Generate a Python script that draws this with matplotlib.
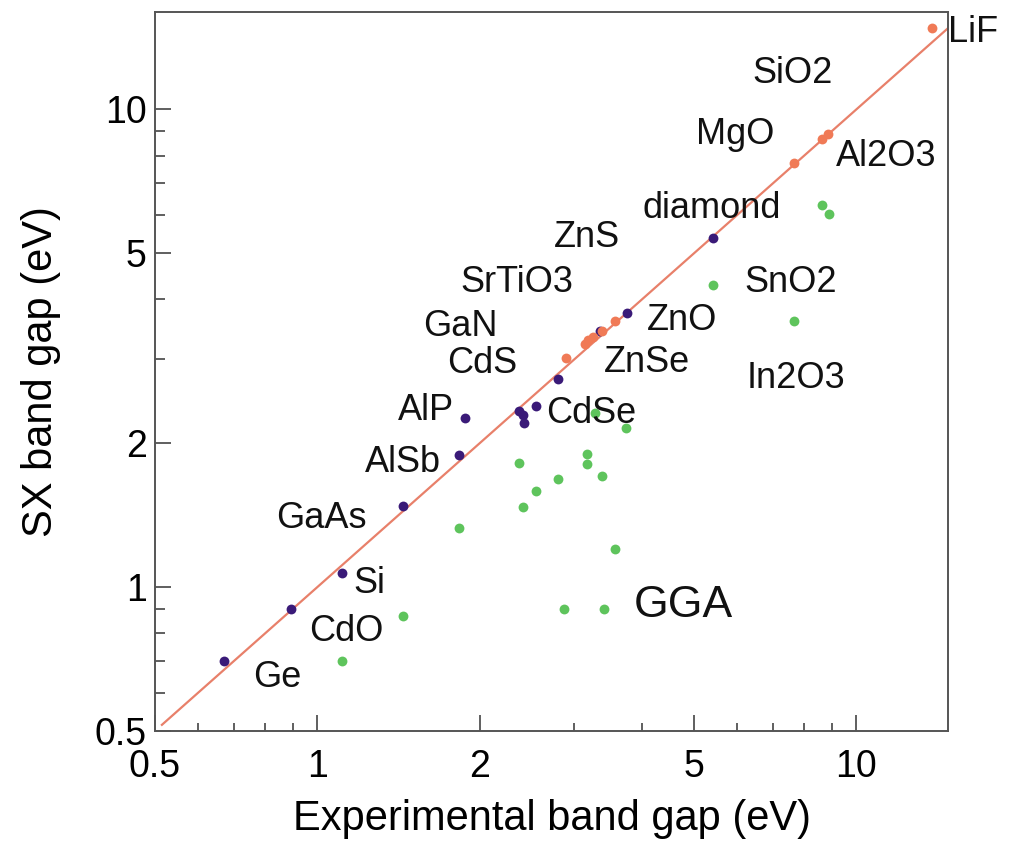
import matplotlib
matplotlib.use("Agg")
from matplotlib import pyplot as plt
from matplotlib.ticker import FixedLocator, NullFormatter

plt.rcParams['font.family'] = ['Liberation Sans', 'DejaVu Sans']

# experimental gap vs SX gap, three groups of points
purple_exp = [0.67, 0.895, 1.11, 1.44, 1.83, 1.88, 2.37, 2.41, 2.42, 2.54, 2.79, 3.35, 3.76, 5.43]
purple_sx = [0.70, 0.90, 1.07, 1.48, 1.89, 2.26, 2.34, 2.29, 2.21, 2.39, 2.73, 3.44, 3.75, 5.38]

orange_exp = [2.89, 3.14, 3.18, 3.25, 3.38, 3.56, 7.67, 8.65, 8.87, 13.8]
orange_sx = [3.01, 3.23, 3.29, 3.34, 3.44, 3.61, 7.71, 8.65, 8.87, 14.8]

green_exp = [8.65, 8.91, 5.43, 7.67, 3.28, 3.74, 3.16, 3.17, 2.37, 3.38, 2.80, 2.54,
             2.41, 1.83, 3.57, 2.87, 3.41, 1.44, 1.11]
green_gga = [6.31, 6.04, 4.29, 3.61, 2.31, 2.15, 1.90, 1.81, 1.82, 1.71, 1.68, 1.59,
             1.47, 1.33, 1.20, 0.90, 0.90, 0.87, 0.70]

labels = ['LiF', 'SiO2', 'MgO', 'Al2O3', 'diamond', 'ZnS', 'SrTiO3', 'SnO2', 'GaN',
          'ZnO', 'CdS', 'ZnSe', 'In2O3', 'AlP', 'CdSe', 'AlSb', 'GaAs', 'Si', 'CdO', 'Ge']
label_x = [14.8, 7.62, 5.95, 9.18, 5.38, 3.16, 2.35, 7.55, 1.84, 4.75, 2.02, 4.08, 7.71,
           1.59, 3.22, 1.44, 1.017, 1.25, 1.13, 0.843]
label_y = [14.5, 11.9, 8.87, 7.98, 6.21, 5.40, 4.35, 4.35, 3.52, 3.61, 2.94, 2.95, 2.73,
           2.34, 2.31, 1.82, 1.39, 1.02, 0.806, 0.646]

purple = '#3a1a78'
orange = '#f07a56'
green = '#5ec45c'

fig = plt.figure(figsize=(10.13, 8.47), dpi=100)
ax = fig.add_axes([0.153, 0.137, 0.783, 0.849])
ax.set_xscale('log')
ax.set_yscale('log')
ax.set_xlim(0.5, 14.8)
ax.set_ylim(0.5, 16)

ax.plot([0.515, 15.5], [0.515, 15.5], color='#e8806a', lw=1.6, zorder=1)
ax.scatter(green_exp, green_gga, s=50, color=green, zorder=2, linewidths=0)
ax.scatter(purple_exp, purple_sx, s=50, color=purple, zorder=3, linewidths=0)
ax.scatter(orange_exp, orange_sx, s=50, color=orange, zorder=3, linewidths=0)

for name, lx, ly in zip(labels, label_x, label_y):
    ha = 'left' if name in ('LiF', 'Al2O3') else 'center'
    ax.text(lx, ly, name, fontsize=26, ha=ha, va='center', color='#111111',
            clip_on=False, zorder=4)
ax.text(4.78, 0.917, 'GGA', fontsize=32, ha='center', va='center', color='#111111')

major = [0.5, 1, 2, 5, 10]
ax.xaxis.set_major_locator(FixedLocator(major))
ax.yaxis.set_major_locator(FixedLocator(major))
ax.set_xticklabels(['0.5', '1', '2', '5', '10'])
ax.set_yticklabels(['0.5', '1', '2', '5', '10'])
minor = [0.6, 0.7, 0.8, 0.9, 3, 4, 6, 7, 8, 9]
ax.xaxis.set_minor_locator(FixedLocator(minor))
ax.yaxis.set_minor_locator(FixedLocator(minor))
ax.xaxis.set_minor_formatter(NullFormatter())
ax.yaxis.set_minor_formatter(NullFormatter())

ax.tick_params(which='both', direction='in', top=False, right=False, color='#444444',
               labelsize=27, width=1.2)
ax.tick_params(which='major', length=11.5)
ax.tick_params(axis='x', which='minor', length=5.5)
ax.tick_params(axis='y', which='minor', length=7)
ax.tick_params(axis='x', pad=13)
ax.tick_params(axis='y', pad=6)

for sp in ax.spines.values():
    sp.set_color('#555555')
    sp.set_linewidth(1.4)

ax.set_xlabel('Experimental band gap (eV)', fontsize=30, labelpad=10)
ax.set_ylabel('SX band gap (eV)', fontsize=30, labelpad=24)

fig.savefig('out.png', dpi=100)
